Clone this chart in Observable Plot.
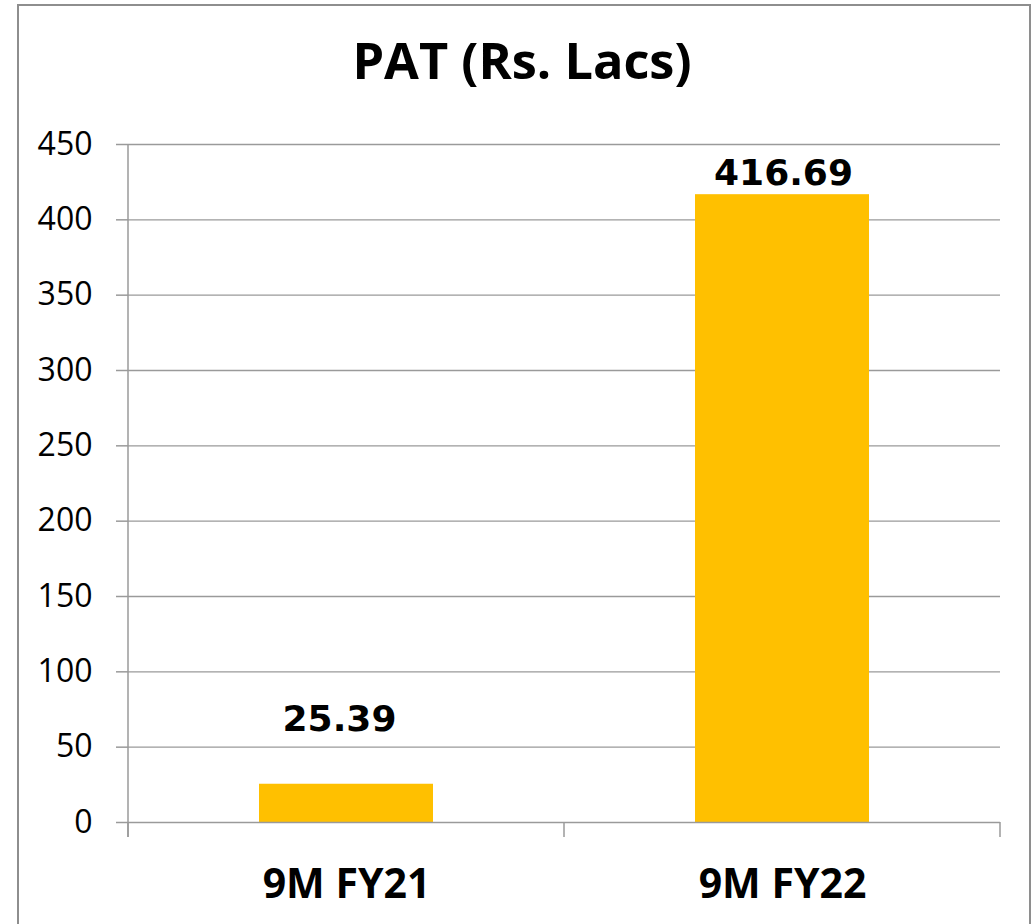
<!DOCTYPE html>
<html>
<head>
<meta charset="utf-8">
<script src="https://cdn.jsdelivr.net/npm/d3@7"></script>
<script src="https://cdn.jsdelivr.net/npm/@observablehq/plot@0.6"></script>
<style>
  html, body { margin: 0; padding: 0; background: #fff; }
  body { width: 1035px; height: 924px; overflow: hidden; position: relative; }
  #frame { position: absolute; left: 17px; top: 4px; width: 1014px; height: 980px; border: 2px solid #8e8e8e; box-sizing: border-box; }
  #title { position: absolute; left: 0; top: 35px; width: 1044px; text-align: center; font-family: "Open Sans", Lato, sans-serif; font-weight: 700; font-size: 50.5px; line-height: 50.5px; color: #000; white-space: nowrap; }
  #chart { position: absolute; left: 0; top: 0; }
  #chart g[aria-label="x-axis tick label"] text { font-weight: 700; }
</style>
</head>
<body>
<div id="frame"></div>
<div id="chart"></div>
<div id="title">PAT (Rs. Lacs)</div>
<script>
// ---- data ----
const categories = ["9M FY21", "9M FY22"];
const patValues = [25.39, 416.69];
const yTicks = [0, 50, 100, 150, 200, 250, 300, 350, 400, 450];

const data = categories.map((c, i) => ({category: c, value: patValues[i]}));

const gridColor = "#9a9a9a";

// decoration: y-axis line and category-boundary tick marks, positioned via the x scale
function axisDecor(index, scales, values, dims) {
  const x = scales.x;
  const dom = x.domain();
  const left = dims.marginLeft, right = dims.width - dims.marginRight;
  const top = dims.marginTop, bottom = dims.height - dims.marginBottom;
  let step, bw;
  if (typeof x.step === "function") { step = x.step(); bw = x.bandwidth(); }
  else { step = (right - left) / dom.length; bw = step * 0.4; }
  const g = d3.create("svg:g").attr("stroke", gridColor).attr("stroke-width", 1.5).attr("fill", "none");
  g.append("line").attr("x1", left).attr("x2", left).attr("y1", top).attr("y2", bottom + 15);
  const bounds = dom.map(d => x(d) + bw / 2 - step / 2);
  bounds.push(x(dom[dom.length - 1]) + bw / 2 + step / 2);
  for (const b of bounds) {
    g.append("line").attr("x1", b).attr("x2", b).attr("y1", bottom).attr("y2", bottom + 15);
  }
  return g.node();
}

const chart = Plot.plot({
  width: 1035,
  height: 924,
  marginLeft: 128,
  marginRight: 35,
  marginTop: 144,
  marginBottom: 102,
  style: {background: "transparent", fontFamily: "'Open Sans', Lato, sans-serif", color: "#000", overflow: "visible"},
  x: {type: "band", domain: categories, paddingInner: 0.6, paddingOuter: 0.3, align: 0.5, label: null},
  y: {domain: [0, 450], label: null},
  marks: [
    Plot.ruleY(yTicks.filter(t => t > 0), {stroke: gridColor, strokeWidth: 1.3}),
    Plot.barY(data, {x: "category", y: "value", fill: "#FFC000"}),
    Plot.ruleY([0], {stroke: gridColor, strokeWidth: 1.5}),
    axisDecor,
    Plot.axisY(yTicks, {tickSize: 12, tickPadding: 24, stroke: gridColor, strokeWidth: 1.5, fill: "#000", fontSize: 32, label: null}),
    Plot.axisX({tickSize: 0, tickPadding: 46, fill: "#000", fontSize: 41, fontWeight: "bold", label: null}),
    Plot.text(data, {filter: (d, i) => i === 0, x: "category", y: "value", text: d => d.value.toFixed(2),
      dy: -65, dx: -7, fontFamily: "DejaVu Sans", fontWeight: "bold", fontSize: 36, fill: "#000"}),
    Plot.text(data, {filter: (d, i) => i === 1, x: "category", y: "value", text: d => d.value.toFixed(2),
      dy: -21, dx: 1, fontFamily: "DejaVu Sans", fontWeight: "bold", fontSize: 36, fill: "#000"})
  ]
});
document.getElementById("chart").appendChild(chart);
</script>
</body>
</html>
